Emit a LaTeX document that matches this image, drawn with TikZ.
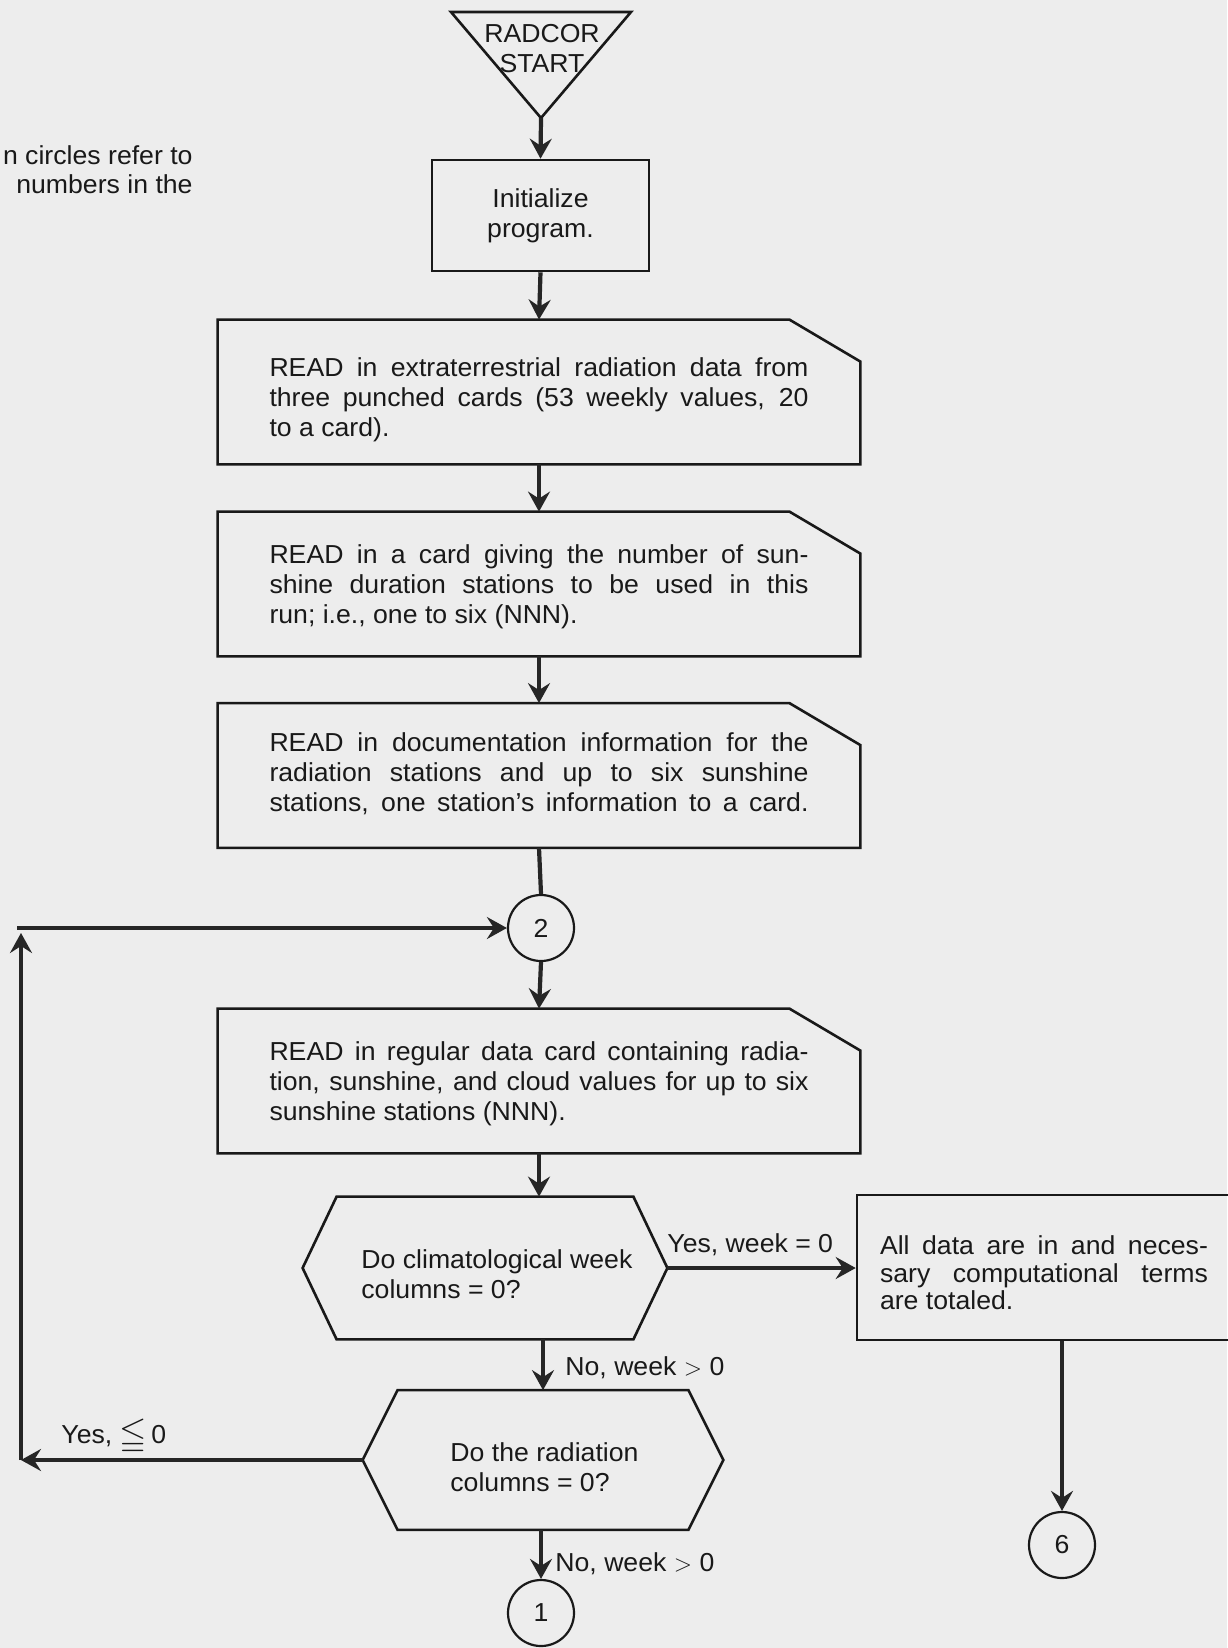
\documentclass[tikz,border=0pt]{standalone}
\usepackage{amssymb}
\usepackage{fontspec}
\setmainfont{Liberation Sans}[FakeStretch=1.025]
\usetikzlibrary{arrows.meta}
\newcommand\jl[2][269.5pt]{\makebox[#1][s]{#2}}
\newcommand\mycard[1]{\draw[outline] (#1.north west) -- ([xshift=-35.5pt]#1.north east) -- ([yshift=-21pt]#1.north east) -- (#1.south east) -- (#1.south west) -- cycle;}
\newcommand\myhex[2]{\draw[outline] (#1.west) -- ([xshift=#2]#1.north west) -- ([xshift=-#2]#1.north east) -- (#1.east) -- ([xshift=-#2]#1.south east) -- ([xshift=#2]#1.south west) -- cycle;}
\tikzset{
  base/.style={font=\fontsize{13}{15}\selectfont, inner sep=0pt, text=black!90},
  outline/.style={line width=1.3pt, line join=miter, draw=black!90},
  rectbox/.style={base, draw=black!90, line width=1.3pt, align=center},
  card/.style={base, minimum width=321pt, minimum height=72pt},
  cardtext/.style={base, align=left},
  hexnode/.style={base, minimum width=#1},
  conn/.style={line width=2.1pt, draw=black!85, -{Stealth[length=10pt,width=11pt,inset=3.5pt]}},
  plainline/.style={line width=2.1pt, draw=black!85},
  conncircle/.style={base, draw=black!90, line width=1.1pt, circle, minimum size=33pt},
  lbl/.style={base, anchor=west}
}
\begin{document}
\begin{tikzpicture}[x=0.5pt,y=-0.5pt]
\useasboundingbox (0,0) rectangle (1227,1648);
\fill[black!7] (0,0) rectangle (1227,1648);

% note at top left
\node[base, anchor=east] (note1) at (193,155) {n circles refer to};
\node[base, anchor=east] (note2) at (193,184) {numbers in the};

% start triangle
\coordinate (tl) at (451,12);
\coordinate (tr) at (631,12);
\coordinate (apex) at (541,118);
\draw[outline] (tl) -- (tr) -- (apex) -- cycle;
\node[base, align=center] (start) at (542,49) {RADCOR\\START};

% boxes
\node[rectbox, minimum width=108.5pt, minimum height=55.5pt] (init) at (540.5,215.5) {Initialize\\program.};

\node[card] (r1) at (539,392) {};
\mycard{r1}
\node[cardtext] (r1t) at (539,400) {\jl{READ in extraterrestrial radiation data from}\\\jl{three punched cards (53 weekly values, 20}\\to a card).};

\node[card] (r2) at (539,584) {};
\mycard{r2}
\node[cardtext] (r2t) at (539,587) {\jl{READ in a card giving the number of sun-}\\\jl{shine duration stations to be used in this}\\run; i.e., one to six (NNN).};

\node[card] (r3) at (539,775.5) {};
\mycard{r3}
\node[cardtext] (r3t) at (539,774) {\jl{READ in documentation information for the}\\\jl{radiation stations and up to six sunshine}\\\jl{stations, one station's information to a card.}};

\node[conncircle] (c2) at (541,928) {2};

\node[card] (r4) at (539,1081) {};
\mycard{r4}
\node[cardtext] (r4t) at (539,1084) {\jl{READ in regular data card containing radia-}\\\jl{tion, sunshine, and cloud values for up to six}\\sunshine stations (NNN).};

% decision 1
\node[hexnode=182pt, minimum height=71pt] (h1) at (485,1268) {};
\myhex{h1}{17pt}
\node[base, align=left, anchor=west] (h1t) at (361,1274) {Do climatological week\\columns = 0?};

% all data box
\node[base, draw=black!90, line width=1.3pt, minimum width=187pt, minimum height=72.5pt] (all) at (1044,1267.5) {};
\node[base, align=left, font=\fontsize{13}{13.8}\selectfont] (allt) at (1044,1273) {\jl[164pt]{All data are in and neces-}\\\jl[164pt]{sary computational terms}\\are totaled.};

\node[conncircle] (c6) at (1062,1545) {6};

% decision 2
\node[hexnode=180pt, minimum height=69.5pt] (h2) at (543,1460) {};
\myhex{h2}{17.5pt}
\node[base, align=left, anchor=west] (h2t) at (450,1467) {Do the radiation\\columns = 0?};

\node[conncircle] (c1) at (541,1613) {1};

% loop coordinates
\coordinate (lc1) at (21,1460);
\coordinate (lc2) at (21,933);
\coordinate (lc3) at (17,928);

% connectors
\draw[conn] (apex) -- (init.north);
\draw[conn] (init.south) -- (r1.north);
\draw[conn] (r1.south) -- (r2.north);
\draw[conn] (r2.south) -- (r3.north);
\draw[plainline] (r3.south) -- (c2.north);
\draw[conn] (c2.south) -- (r4.north);
\draw[conn] (r4.south) -- (r4.south |- h1.north);
\draw[conn] (h1.east) -- (h1.east -| all.west);
\draw[conn] (all.south -| c6.north) -- (c6.north);
\draw[conn] (h1.south -| h2.north) -- (h2.north);
\draw[conn] (h2.south -| c1.north) -- (c1.north);
\draw[conn] (h2.west) -- (lc1);
\draw[conn] (lc1) -- (lc2);
\draw[conn] (lc3) -- (c2.west);

% labels
\node[lbl] (yes1) at (667,1245) {Yes, week = 0};
\node[lbl] (no1) at (565,1368) {No, week $>$ 0};
\node[lbl] (yes2) at (61,1437) {Yes, \raisebox{-0.15ex}{\scalebox{1.35}{$\leqq$}}\,0};
\node[lbl] (no2) at (555,1564) {No, week $>$ 0};
\end{tikzpicture}
\end{document}
